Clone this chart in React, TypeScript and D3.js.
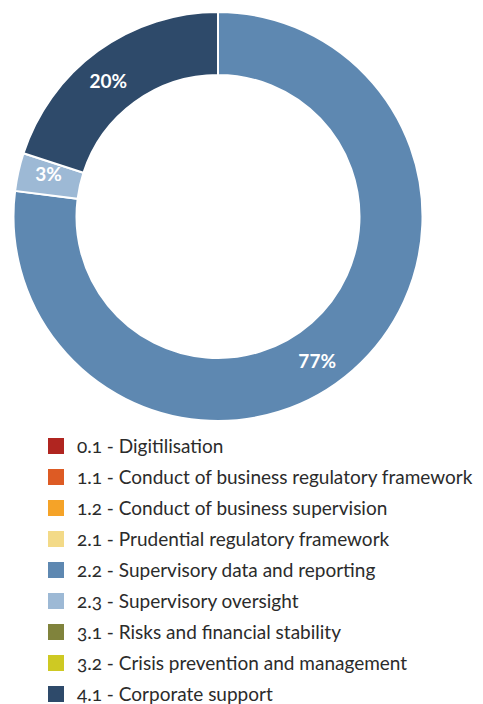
import React from "react";
import * as d3 from "d3";

const categories = [
  "0.1 - Digitilisation",
  "1.1 - Conduct of business regulatory framework",
  "1.2 - Conduct of business supervision",
  "2.1 - Prudential regulatory framework",
  "2.2 - Supervisory data and reporting",
  "2.3 - Supervisory oversight",
  "3.1 - Risks and financial stability",
  "3.2 - Crisis prevention and management",
  "4.1 - Corporate support",
];
const values = [0, 0, 0, 0, 77, 3, 0, 0, 20];
const colors = [
  "#B02520",
  "#DD5B24",
  "#F5A328",
  "#F3DA88",
  "#5E88B1",
  "#9DB9D5",
  "#80833C",
  "#CEC923",
  "#2E4A6A",
];

const W = 483;
const H = 704;
const cx = 218;
const cy = 216.5;
const outerR = 204.5;
const innerR = 141.5;
const labelR = 175;
const labelNudge: Record<number, number> = { 4: 0.12, 5: 0.03, 8: -0.05 };

export default function App() {
  const data = categories.map((c, i) => ({ c, v: values[i], color: colors[i], i }));
  const pie = d3
    .pie<any>()
    .value((d) => d.v)
    .sort(null);
  const arcs = pie(data.filter((d) => d.v > 0));
  const arcGen = d3.arc<any>().innerRadius(innerR).outerRadius(outerR);
  const total = d3.sum(values);

  const legendY = d3
    .scalePoint<number>()
    .domain(d3.range(categories.length))
    .range([446, 694]);

  return (
    <svg
      width={W}
      height={H}
      style={{ position: "absolute", left: 0, top: 0 }}
      fontFamily="Lato, 'Open Sans', sans-serif"
    >
      <g transform={`translate(${cx},${cy})`}>
        {arcs.map((a, k) => (
          <path
            key={k}
            d={arcGen(a) || ""}
            fill={a.data.color}
            stroke="#fff"
            strokeWidth={2}
          />
        ))}
        {arcs.map((a, k) => {
          const mid = (a.startAngle + a.endAngle) / 2 + (labelNudge[a.data.i] || 0);
          const x = labelR * Math.sin(mid);
          const y = -labelR * Math.cos(mid);
          return (
            <text
              key={"t" + k}
              x={x}
              y={y}
              textAnchor="middle"
              dominantBaseline="central"
              fill="#fff"
              fontWeight={700}
              fontSize={19}
            >
              {Math.round((a.data.v / total) * 100)}%
            </text>
          );
        })}
      </g>
      {categories.map((c, i) => (
        <g key={c} transform={`translate(0,${legendY(i)})`}>
          <rect x={48} y={-8} width={16} height={16} fill={colors[i]} />
          <text
            x={77}
            y={7}
            fontSize={19}
            fill="#2b2b2b"
            style={{ fontVariantNumeric: "oldstyle-nums" }}
          >
            {c}
          </text>
        </g>
      ))}
    </svg>
  );
}
